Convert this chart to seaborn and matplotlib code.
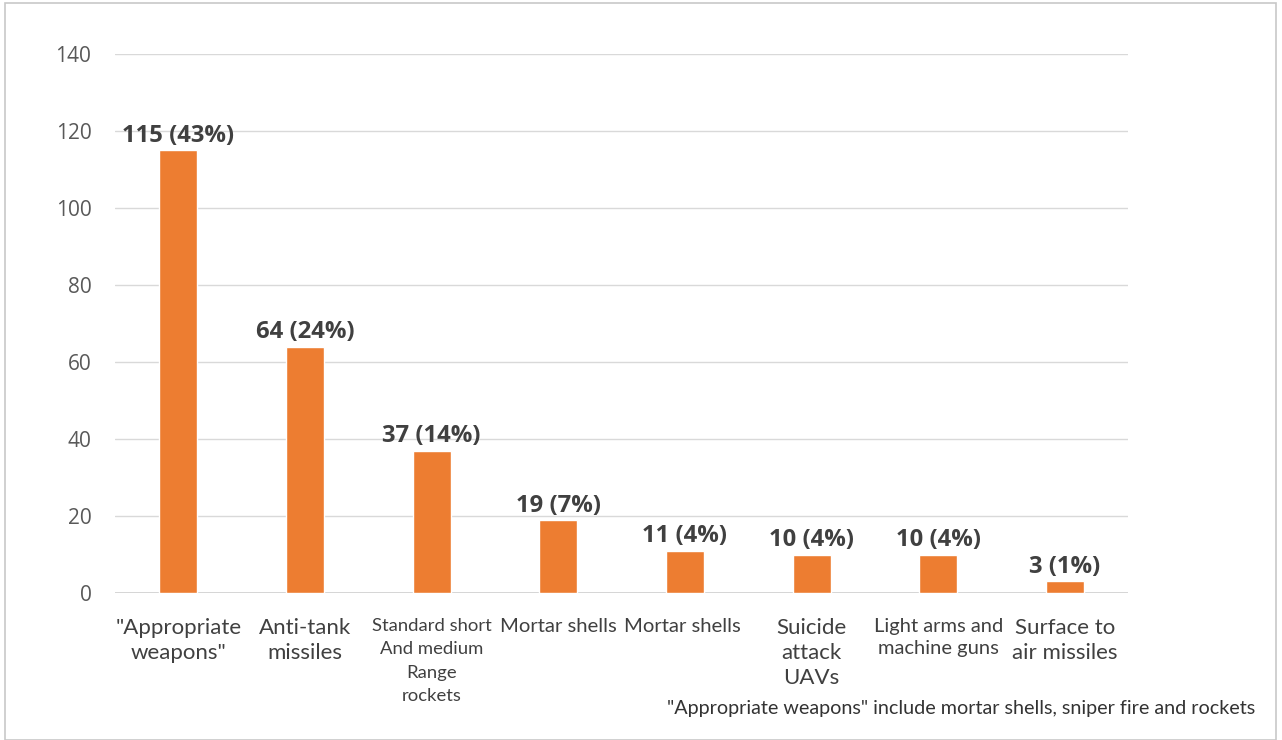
import matplotlib
matplotlib.use("Agg")
import matplotlib.pyplot as plt
import seaborn as sns
import pandas as pd
from matplotlib.patches import Rectangle

categories = [
    '"Appropriate\nweapons"',
    "Anti-tank\nmissiles",
    "Standard short\nAnd medium\nRange\nrockets",
    "Mortar shells",
    "Mortar shells ",
    "Suicide\nattack\nUAVs",
    "Light arms and\nmachine guns",
    "Surface to\nair missiles",
]
counts = [115, 64, 37, 19, 11, 10, 10, 3]
shares = [43, 24, 14, 7, 4, 4, 4, 1]
yticks = [0, 20, 40, 60, 80, 100, 120, 140]
footnote = '"Appropriate weapons" include mortar shells, sniper fire and rockets'

# category label sizes and line spacing (some labels are set tighter to fit their slot)
label_sizes = [16, 16, 13.3, 14.6, 14.6, 16, 14.5, 16]
label_spacing = [1.3, 1.3, 1.56, 1.3, 1.3, 1.3, 1.34, 1.3]

df = pd.DataFrame({"weapon": categories, "count": counts})

sns.set_theme(style="white")
plt.rcParams["font.family"] = ["Open Sans", "DejaVu Sans"]

fig = plt.figure(figsize=(12.82, 7.40), dpi=100)
ax = fig.add_axes([0.0897, 0.1986, 0.7903, 0.7284])

sns.barplot(data=df, x="weapon", y="count", color="#ED7D31", saturation=1,
            width=0.3, ax=ax, zorder=3)

ax.set_ylim(0, 140)
ax.set_yticks(yticks)
ax.yaxis.grid(True, color="#d9d9d9", linewidth=1.0, zorder=0)
ax.set_axisbelow(True)
for side in ["top", "right", "left", "bottom"]:
    ax.spines[side].set_visible(False)
ax.axhline(0, color="#d0d0d0", linewidth=1.2, zorder=2)
ax.set_xlabel("")
ax.set_ylabel("")
ax.tick_params(axis="y", length=0, pad=17, labelsize=15, labelcolor="#595959")
ax.tick_params(axis="x", length=0, pad=18, labelsize=16, labelcolor="#404040")
for lbl, size, sp in zip(ax.get_xticklabels(), label_sizes, label_spacing):
    lbl.set_family(["Lato", "DejaVu Sans"])
    lbl.set_fontsize(size)
    lbl.set_linespacing(sp)
    lbl.set_verticalalignment("top")

for i, (c, s) in enumerate(zip(counts, shares)):
    ax.text(i, c + 0.6, f"{c} ({s}%)", ha="center", va="bottom",
            fontsize=17.2, fontweight="bold", color="#404040")

fig.text(0.979, 0.043, footnote, ha="right", va="center", fontsize=14.2,
         color="#333333", family=["Lato", "DejaVu Sans"])

fig.patches.append(Rectangle((0.004, 0.0), 0.991, 0.996, transform=fig.transFigure,
                             fill=False, edgecolor="#c8c8c8", linewidth=1.2))

fig.savefig("out.png", dpi=100, facecolor="white")
